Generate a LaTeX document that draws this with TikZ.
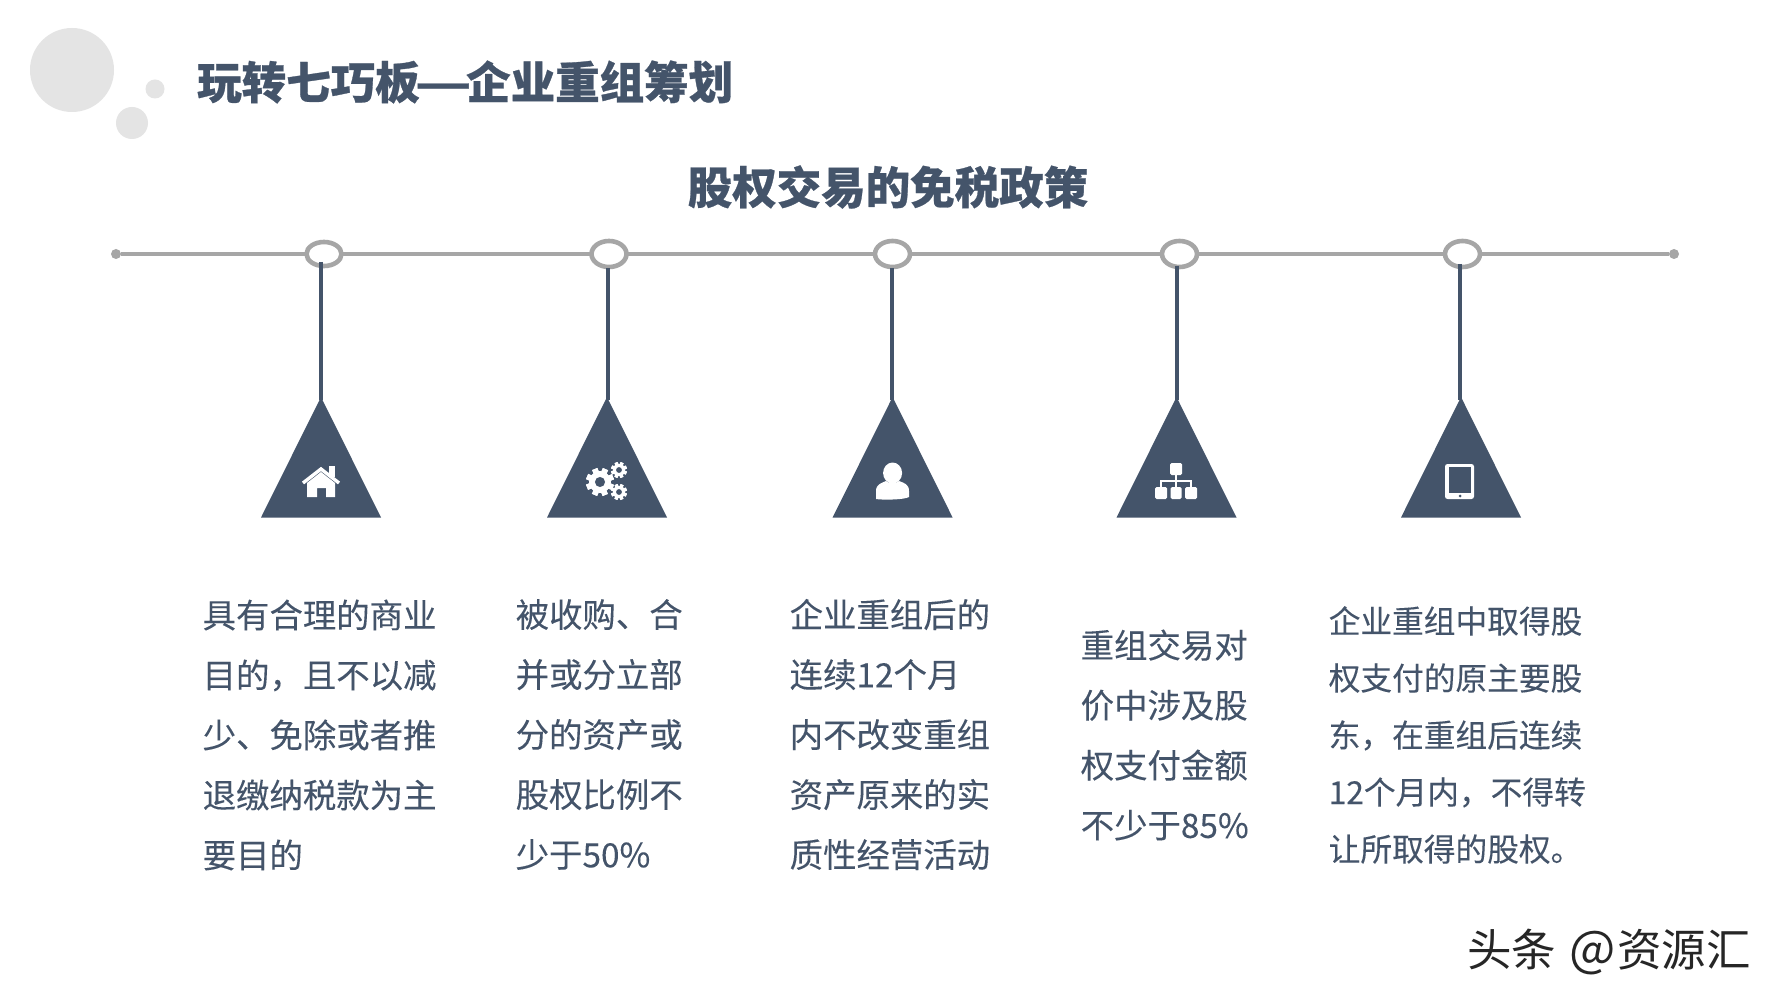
\documentclass[tikz,border=0pt]{standalone}
\usepackage{fontspec}
\setmainfont[FakeBold=0.12]{Noto Sans CJK SC}
\newfontfamily\heavy[FakeBold=0.6]{Noto Sans CJK SC}
\newfontfamily\markfont{Noto Sans CJK SC}
\usetikzlibrary{shapes.geometric}
\definecolor{navy}{HTML}{44546A}
\definecolor{railgray}{HTML}{A6A6A6}
\definecolor{bubble}{HTML}{E4E4E4}
\tikzset{
  x=1pt,y=-1pt,
  rail/.style={draw=railgray,line width=3.6pt},
  raildot/.style={circle,fill=railgray,draw=none,minimum size=10pt,inner sep=0pt},
  ring/.style={ellipse,draw=railgray,line width=4.6pt,fill=white,inner sep=0pt,minimum width=35pt,minimum height=24pt},
  ringb/.style={ring,minimum width=35pt,minimum height=26pt},
  stem/.style={draw=navy,line width=3.6pt},
  tri/.style={fill=navy},
  body/.style={anchor=west,inner sep=0pt,align=left,text=navy,font=\fontsize{33.4}{60}\selectfont},
  bodyb/.style={anchor=west,inner sep=0pt,align=left,text=navy,font=\fontsize{31.7}{57}\selectfont},
  head/.style={inner sep=0pt,text=navy,font=\heavy\bfseries\fontsize{44.5}{50}\selectfont},
  icon/.style={fill=white,draw=none},
  gear/.pic={
    \fill[white] (0,0) circle (#1*0.78);
    \foreach \a in {0,45,...,315}{\fill[white,rotate=\a+22] (-#1*0.2,-#1) rectangle (#1*0.2,#1);}
    \fill[navy] (0,0) circle (#1*0.36);
  }
}
\begin{document}
\begin{tikzpicture}
\useasboundingbox (0,0) rectangle (1778,1000);
\fill[white] (0,0) rectangle (1778,1000);
% bubbles
\fill[bubble] (72,70) circle (42);
\fill[bubble] (155,89) circle (9.5);
\fill[bubble] (132,123) circle (16);
% titles
\node[head,anchor=west] (title) at (197,82) {玩转七巧板\kern-5pt\scalebox{1.4}[1]{—}\kern-5.5pt 企业重组筹划};
\node[head] (subtitle) at (888,187) {股权交易的免税政策};
% rail
\node[raildot] (railL) at (116,254) {};
\node[raildot] (railR) at (1674,254) {};
\draw[rail] (railL) -- (railR);
\node[ring] (r1) at (324,254) {};
\node[ringb] (r2) at (609,254) {};
\node[ringb] (r3) at (892.5,254) {};
\node[ringb] (r4) at (1179.5,254) {};
\node[ringb] (r5) at (1462.5,254) {};
% triangles
\foreach \n/\x/\ya in {1/321/397,2/607/397,3/892.6/397,4/1176.5/397,5/1461/397}{
  \coordinate (apex\n) at (\x,\ya);
  \fill[tri] (\x,\ya) -- (\x+60,517.5) -- (\x-60,517.5) -- cycle;
}
% stems
\coordinate (s1) at (321,262);
\coordinate (s2) at (608,268);
\coordinate (s3) at (892,268);
\coordinate (s4) at (1177,266);
\coordinate (s5) at (1460,264);
\foreach \n in {1,...,5}{\draw[stem] (s\n) -- ([yshift=-3pt]s\n |- apex\n);}
% house
\fill[icon] (307,497) -- (307,483) -- (321,472) -- (335,483) -- (335,497) -- (326,497) -- (326,488) -- (317,488) -- (317,497) -- cycle;
\fill[icon] (329,466) rectangle (335,477);
\draw[white,line width=3.4pt,fill=none] (303,483) -- (321,469) -- (339,483);
% gears
\pic at (600,482) {gear=14};
\pic at (619,470) {gear=8};
\pic at (619,492) {gear=8};
% person
\fill[icon] (876,499) -- (876,491) .. controls (876,484) and (882,483) .. (886,481) .. controls (889,484) and (896,484) .. (899,481) .. controls (904,483) and (909,484) .. (909,491) -- (909,497) .. controls (904,500) and (881,500) .. (876,499) -- cycle;
\fill[white] (892.6,473) ellipse [x radius=9.5,y radius=10.5];
% org chart
\draw[white,line width=2pt] (1176,475) -- (1176,487) (1161,487) -- (1161,481) -- (1191,481) -- (1191,487);
\fill[icon,rounded corners=1.5pt] (1170,463) rectangle (1182,475);
\fill[icon,rounded corners=1.5pt] (1155,487) rectangle (1167,499);
\fill[icon,rounded corners=1.5pt] (1170.5,487) rectangle (1181.5,499);
\fill[icon,rounded corners=1.5pt] (1185,487) rectangle (1197,499);
% tablet
\fill[icon,rounded corners=2.5pt] (1445,464) rectangle (1474,499);
\fill[navy] (1449,467) rectangle (1471,493);
\fill[navy] (1460,496) circle (1.5);
% texts
\node[body] (t1) at (202.5,735) {具有合理的商业\\目的，且不以减\\少、免除或者推\\退缴纳税款为主\\要目的};
\node[body] (t2) at (515.5,734.5) {被收购、合\\并或分立部\\分的资产或\\股权比例不\\少于50\%};
\node[body] (t3) at (789.5,734.5) {企业重组后的\\连续12个月\\内不改变重组\\资产原来的实\\质性经营活动};
\node[body] (t4) at (1080.5,735) {重组交易对\\价中涉及股\\权支付金额\\不少于85\%};
\node[bodyb] (t5) at (1328.5,735) {企业重组中取得股\\权支付的原主要股\\东，在重组后连续\\12个月内，不得转\\让所取得的股权。};
% watermark
\node[anchor=west,inner sep=0pt,text=black!85,font=\markfont\fontsize{44.5}{48}\selectfont] (mark) at (1467,952) {头条 \kern3pt\scalebox{1.1}{@}\kern2pt 资源汇};
\end{tikzpicture}
\end{document}
